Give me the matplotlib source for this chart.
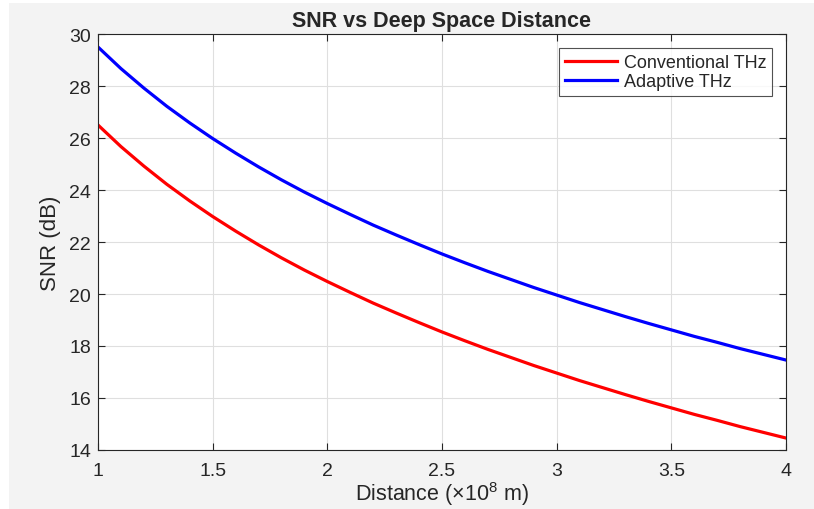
import matplotlib
matplotlib.use("Agg")
import matplotlib.pyplot as plt
from matplotlib.patches import Rectangle

plt.rcParams['font.family'] = ['Liberation Sans', 'DejaVu Sans']
plt.rcParams['mathtext.fontset'] = 'custom'
plt.rcParams['mathtext.rm'] = 'Liberation Sans'
plt.rcParams['mathtext.it'] = 'Liberation Sans'

distance = [1.0, 1.1, 1.2, 1.3, 1.4, 1.5, 1.6, 1.7, 1.8, 1.9, 2.0,
            2.1, 2.2, 2.3, 2.4, 2.5, 2.6, 2.7, 2.8, 2.9, 3.0,
            3.1, 3.2, 3.3, 3.4, 3.5, 3.6, 3.7, 3.8, 3.9, 4.0]
snr_conventional = [26.50, 25.67, 24.92, 24.22, 23.58, 22.98, 22.42, 21.89, 21.39, 20.92, 20.48,
                    20.06, 19.65, 19.27, 18.90, 18.54, 18.20, 17.87, 17.56, 17.25, 16.96,
                    16.67, 16.40, 16.13, 15.87, 15.62, 15.37, 15.14, 14.90, 14.68, 14.46]
snr_adaptive = [29.50, 28.67, 27.92, 27.22, 26.58, 25.98, 25.42, 24.89, 24.39, 23.92, 23.48,
                23.06, 22.65, 22.27, 21.90, 21.54, 21.20, 20.87, 20.56, 20.25, 19.96,
                19.67, 19.40, 19.13, 18.87, 18.62, 18.37, 18.14, 17.90, 17.68, 17.46]
x_ticks = [1, 1.5, 2, 2.5, 3, 3.5, 4]
x_tick_labels = ['1', '1.5', '2', '2.5', '3', '3.5', '4']
y_ticks = [14, 16, 18, 20, 22, 24, 26, 28, 30]

fig = plt.figure(figsize=(8.14, 5.10), dpi=100, facecolor='white')
fig.patches.append(Rectangle((9 / 814, 0), 1 - 9 / 814, 1 - 4 / 510,
                             transform=fig.transFigure, facecolor='#f3f3f3',
                             edgecolor='none', zorder=-10))
ax = fig.add_axes([98 / 814, 1 - 451 / 510, (786 - 98) / 814, (451 - 35) / 510])
ax.set_facecolor('white')

ax.plot(distance, snr_conventional, color='#ff0000', lw=2.3, label='Conventional THz')
ax.plot(distance, snr_adaptive, color='#0000ff', lw=2.3, label='Adaptive THz')

ax.set_xlim(1, 4)
ax.set_ylim(14, 30)
ax.set_xticks(x_ticks)
ax.set_xticklabels(x_tick_labels)
ax.set_yticks(y_ticks)
ax.grid(True, color='#dfdfdf', lw=0.8)
ax.set_axisbelow(True)

for s in ax.spines.values():
    s.set_color('#262626')
    s.set_linewidth(0.8)
ax.tick_params(direction='in', top=True, right=True, length=5, width=0.8,
               colors='#262626', labelsize=14)
ax.tick_params(axis='x', pad=9)
ax.tick_params(axis='y', pad=5)

ax.set_title('SNR vs Deep Space Distance', fontsize=15.5, fontweight='bold',
             color='#262626', pad=6)
ax.set_xlabel('Distance (×10$^{8}$ m)', fontsize=15.5, color='#262626', labelpad=0)
ax.set_ylabel('SNR (dB)', fontsize=16, color='#262626', labelpad=6)

leg = ax.legend(loc='upper right', fontsize=13, frameon=True, fancybox=False,
                edgecolor='#262626', handlelength=2.9, borderpad=0.35,
                labelspacing=0.12, handletextpad=0.35, borderaxespad=0.75)
leg.get_frame().set_linewidth(0.8)
for t in leg.get_texts():
    t.set_color('#262626')

fig.savefig('out.png', dpi=100, facecolor=fig.get_facecolor())
